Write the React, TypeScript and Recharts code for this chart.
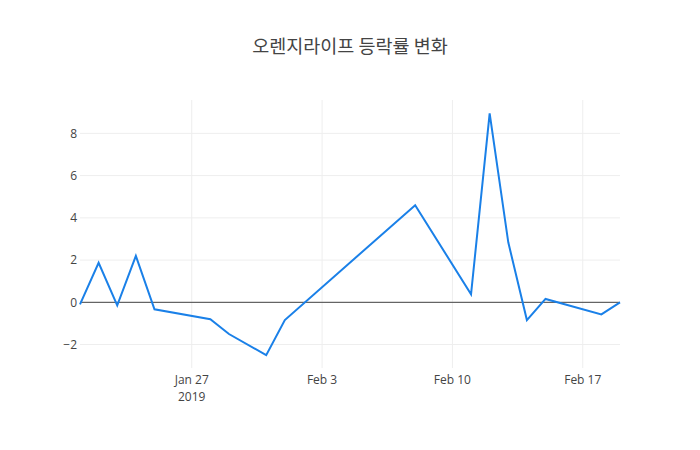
import { LineChart, Line, XAxis, YAxis, ReferenceLine } from "recharts";

const dates = [
  "2019-01-21", "2019-01-22", "2019-01-23", "2019-01-24", "2019-01-25",
  "2019-01-28", "2019-01-29", "2019-01-31", "2019-02-01", "2019-02-08",
  "2019-02-11", "2019-02-12", "2019-02-13", "2019-02-14", "2019-02-15",
  "2019-02-18", "2019-02-19",
];
const changes = [
  -0.1, 1.87, -0.14, 2.2, -0.33,
  -0.8, -1.5, -2.5, -0.84, 4.6,
  0.38, 8.95, 2.84, -0.84, 0.16,
  -0.57, 0.0,
];
const xTickDates = ["2019-01-27", "2019-02-03", "2019-02-10", "2019-02-17"];
const xTickLabels = ["Jan 27", "Feb 3", "Feb 10", "Feb 17"];
const yTicks = [-2, 0, 2, 4, 6, 8];

const toTs = (d: string) => Date.parse(d + "T00:00:00Z");

const data = dates.map((d, i) => ({ t: toTs(d), v: changes[i] }));
const xTicks = xTickDates.map(toTs);
const xDomain = [toTs("2019-01-21"), toTs("2019-02-19")];

const fontFamily = '"Open Sans", "Noto Sans", sans-serif';

function DateTick(props: any) {
  const { x, y, payload } = props;
  const idx = xTicks.indexOf(payload.value);
  const label = xTickLabels[idx] ?? "";
  return (
    <g>
      <text x={x} y={y + 8} textAnchor="middle" fill="#444" fontSize={12} fontFamily={fontFamily}>
        {label}
      </text>
      {idx === 0 && (
        <text x={x} y={y + 25} textAnchor="middle" fill="#444" fontSize={12} fontFamily={fontFamily}>
          2019
        </text>
      )}
    </g>
  );
}

export default function App() {
  return (
    <div style={{ width: 700, height: 450, position: "relative", background: "#fff", margin: -8 }}>
      <div
        style={{
          position: "absolute",
          top: 31,
          left: 0,
          width: 700,
          textAlign: "center",
          fontFamily: '"Noto Sans CJK KR", sans-serif',
          fontSize: 18.5,
          lineHeight: "28px",
          color: "#444",
        }}
      >
        오렌지라이프 등락률 변화
      </div>
      <LineChart
        width={700}
        height={450}
        data={data}
        margin={{ top: 100, right: 80, bottom: 52, left: 20 }}
      >
        <XAxis
          dataKey="t"
          type="number"
          scale="time"
          domain={xDomain}
          ticks={xTicks}
          tick={<DateTick />}
          axisLine={false}
          tickLine={false}
          height={30}
          interval={0}
        />
        <YAxis
          type="number"
          domain={[-3.11, 9.58]}
          ticks={yTicks}
          axisLine={false}
          tickLine={false}
          width={60}
          tickSize={3}
          tickMargin={0}
          tick={{ fill: "#444", fontSize: 12, fontFamily }}
          tickFormatter={(v: number) => (v < 0 ? "\u2212" + Math.abs(v) : String(v))}
          allowDataOverflow
        />
        {yTicks.map((v) => (
          <ReferenceLine key={"y" + v} y={v} stroke="#eee" strokeWidth={1} />
        ))}
        {xTicks.map((v) => (
          <ReferenceLine key={"x" + v} x={v} stroke="#eee" strokeWidth={1} />
        ))}
        <ReferenceLine y={0} stroke="#444" strokeWidth={1} />
        <Line
          type="linear"
          dataKey="v"
          stroke="#1a80e8"
          strokeWidth={2}
          dot={false}
          isAnimationActive={false}
        />
      </LineChart>
    </div>
  );
}
